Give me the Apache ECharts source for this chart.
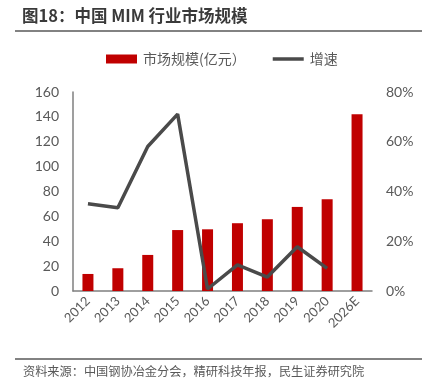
<!DOCTYPE html>
<html><head><meta charset="utf-8">
<script src="https://cdn.jsdelivr.net/npm/echarts@6/dist/echarts.min.js"></script>
<style>html,body{margin:0;padding:0;background:#fff}#c{width:428px;height:391px}</style>
</head><body><div id="c"></div>
<script>
var categories = ['2012','2013','2014','2015','2016','2017','2018','2019','2020','2026E'];
var marketSize = [13.7, 18.3, 29, 49, 49.6, 54.5, 57.7, 67.6, 73.8, 142.2];
var growth = [35.1, 33.5, 58.1, 71.1, 0.8, 10.5, 5.6, 17.8, 9.1, null];
var leftTicks = [0, 20, 40, 60, 80, 100, 120, 140, 160];
var rightTicks = ['0%', '20%', '40%', '60%', '80%'];
var titleText = '图18：中国 MIM 行业市场规模';
var sourceText = '资料来源：中国钢协冶金分会，精研科技年报，民生证券研究院';
var seriesNames = ['市场规模(亿元）', '增速'];

var cjk = '"Noto Sans CJK SC", sans-serif';
var num = 'Lato, "Noto Sans", sans-serif';
var chart = echarts.init(document.getElementById('c'), null, {renderer: 'canvas'});
chart.setOption({
  animation: false,
  backgroundColor: '#fff',
  graphic: [
    {type: 'text', left: 22, top: 7, style: {text: titleText, font: 'bold 16.5px ' + cjk, fill: '#3a3a3a'}},
    {type: 'line', shape: {x1: 15, y1: 31, x2: 422, y2: 31}, style: {stroke: '#595959', lineWidth: 1.5}},
    {type: 'line', shape: {x1: 15, y1: 359, x2: 422, y2: 359}, style: {stroke: '#595959', lineWidth: 1.5}},
    {type: 'text', left: 23, top: 365, style: {text: sourceText, font: '12.2px ' + cjk, fill: '#595959'}}
  ],
  legend: {
    top: 52, left: 106, padding: 0,
    itemWidth: 31, itemHeight: 9, itemGap: 27,
    textStyle: {fontFamily: cjk, fontSize: 14, color: '#595959', padding: [0, 0, 0, 1]},
    data: [
      {name: seriesNames[0], icon: 'rect'},
      {name: seriesNames[1], icon: 'path://M0,0 H31 V3.5 H0 Z', itemStyle: {color: '#4a4a4a'}}
    ]
  },
  grid: {left: 73, right: 56, top: 92, bottom: 100, containLabel: false},
  xAxis: {
    type: 'category', data: categories,
    axisLine: {lineStyle: {color: '#7f7f7f', width: 1.5}},
    axisTick: {show: false},
    axisLabel: {rotate: 45, interval: 0, fontFamily: num, fontSize: 13, color: '#595959', margin: 8}
  },
  yAxis: [
    {type: 'value', min: 0, max: 160, interval: 20,
     axisLine: {show: true, lineStyle: {color: '#7f7f7f', width: 1.5}},
     axisTick: {show: false}, splitLine: {show: false},
     axisLabel: {fontFamily: num, fontSize: 14, color: '#595959', margin: 14,
       formatter: function (v) { return leftTicks.indexOf(v) >= 0 ? String(v) : ''; }}},
    {type: 'value', min: 0, max: 80, interval: 20, position: 'right',
     axisLine: {show: false}, axisTick: {show: false}, splitLine: {show: false},
     axisLabel: {fontFamily: num, fontSize: 14, color: '#595959', margin: 14,
       formatter: function (v) { return rightTicks[v / 20]; }}}
  ],
  series: [
    {name: seriesNames[0], type: 'bar', data: marketSize, yAxisIndex: 0,
     barWidth: 11, itemStyle: {color: '#C00000'}},
    {name: seriesNames[1], type: 'line', data: growth, yAxisIndex: 1,
     symbol: 'none', lineStyle: {color: '#4a4a4a', width: 3.5}, itemStyle: {color: '#4a4a4a'}}
  ]
});
</script></body></html>
